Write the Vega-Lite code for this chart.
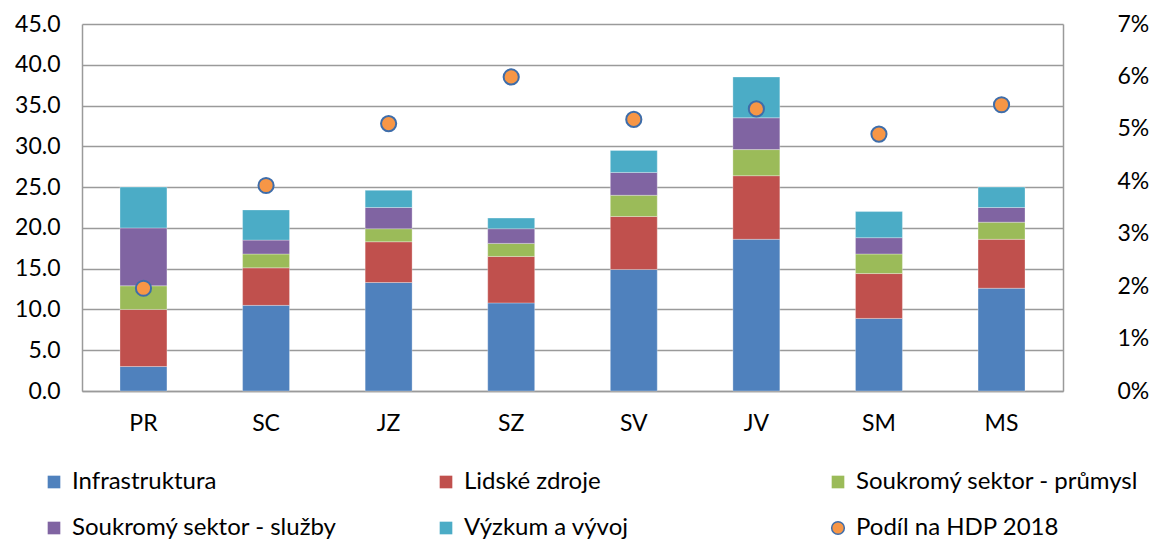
{
  "$schema": "https://vega.github.io/schema/vega-lite/v6.json",
  "width": 981,
  "height": 367,
  "autosize": {"type": "none"},
  "padding": {"left": 82, "top": 24, "right": 91, "bottom": 148},
  "background": "white",
  "datasets": {
    "bars": [
      {"region": "PR", "series": "Infrastruktura", "value": 3.0},
      {"region": "PR", "series": "Lidské zdroje", "value": 7.0},
      {"region": "PR", "series": "Soukromý sektor - průmysl", "value": 2.9},
      {"region": "PR", "series": "Soukromý sektor - služby", "value": 7.1},
      {"region": "PR", "series": "Výzkum a vývoj", "value": 5.0},
      {"region": "SC", "series": "Infrastruktura", "value": 10.5},
      {"region": "SC", "series": "Lidské zdroje", "value": 4.6},
      {"region": "SC", "series": "Soukromý sektor - průmysl", "value": 1.7},
      {"region": "SC", "series": "Soukromý sektor - služby", "value": 1.7},
      {"region": "SC", "series": "Výzkum a vývoj", "value": 3.7},
      {"region": "JZ", "series": "Infrastruktura", "value": 13.3},
      {"region": "JZ", "series": "Lidské zdroje", "value": 5.0},
      {"region": "JZ", "series": "Soukromý sektor - průmysl", "value": 1.6},
      {"region": "JZ", "series": "Soukromý sektor - služby", "value": 2.6},
      {"region": "JZ", "series": "Výzkum a vývoj", "value": 2.1},
      {"region": "SZ", "series": "Infrastruktura", "value": 10.8},
      {"region": "SZ", "series": "Lidské zdroje", "value": 5.7},
      {"region": "SZ", "series": "Soukromý sektor - průmysl", "value": 1.6},
      {"region": "SZ", "series": "Soukromý sektor - služby", "value": 1.8},
      {"region": "SZ", "series": "Výzkum a vývoj", "value": 1.3},
      {"region": "SV", "series": "Infrastruktura", "value": 14.9},
      {"region": "SV", "series": "Lidské zdroje", "value": 6.5},
      {"region": "SV", "series": "Soukromý sektor - průmysl", "value": 2.6},
      {"region": "SV", "series": "Soukromý sektor - služby", "value": 2.8},
      {"region": "SV", "series": "Výzkum a vývoj", "value": 2.7},
      {"region": "JV", "series": "Infrastruktura", "value": 18.6},
      {"region": "JV", "series": "Lidské zdroje", "value": 7.8},
      {"region": "JV", "series": "Soukromý sektor - průmysl", "value": 3.2},
      {"region": "JV", "series": "Soukromý sektor - služby", "value": 3.9},
      {"region": "JV", "series": "Výzkum a vývoj", "value": 5.0},
      {"region": "SM", "series": "Infrastruktura", "value": 8.9},
      {"region": "SM", "series": "Lidské zdroje", "value": 5.5},
      {"region": "SM", "series": "Soukromý sektor - průmysl", "value": 2.4},
      {"region": "SM", "series": "Soukromý sektor - služby", "value": 2.0},
      {"region": "SM", "series": "Výzkum a vývoj", "value": 3.2},
      {"region": "MS", "series": "Infrastruktura", "value": 12.6},
      {"region": "MS", "series": "Lidské zdroje", "value": 6.0},
      {"region": "MS", "series": "Soukromý sektor - průmysl", "value": 2.1},
      {"region": "MS", "series": "Soukromý sektor - služby", "value": 1.8},
      {"region": "MS", "series": "Výzkum a vývoj", "value": 2.5}
    ],
    "dots": [
      {"region": "PR", "series": "Podíl na HDP 2018", "share": 0.0196},
      {"region": "SC", "series": "Podíl na HDP 2018", "share": 0.0392},
      {"region": "JZ", "series": "Podíl na HDP 2018", "share": 0.0510},
      {"region": "SZ", "series": "Podíl na HDP 2018", "share": 0.0599},
      {"region": "SV", "series": "Podíl na HDP 2018", "share": 0.0518},
      {"region": "JV", "series": "Podíl na HDP 2018", "share": 0.0538},
      {"region": "SM", "series": "Podíl na HDP 2018", "share": 0.0490},
      {"region": "MS", "series": "Podíl na HDP 2018", "share": 0.0546}
    ]
  },
  "encoding": {
    "x": {
      "field": "region",
      "type": "nominal",
      "sort": ["PR", "SC", "JZ", "SZ", "SV", "JV", "SM", "MS"],
      "scale": {"paddingInner": 0.617, "paddingOuter": 0.31},
      "axis": {"labelAngle": 0, "labelPadding": 21, "labelFontSize": 23, "labelFont": "Lato", "domain": true}
    }
  },
  "layer": [
    {
      "data": {"name": "bars"},
      "mark": {"type": "bar", "stroke": "#ffffff", "strokeWidth": 0.5, "strokeOpacity": 0.6},
      "encoding": {
        "y": {
          "field": "value",
          "type": "quantitative",
          "stack": "zero",
          "scale": {"domain": [0, 45], "nice": false},
          "axis": {"values": [0, 5, 10, 15, 20, 25, 30, 35, 40, 45], "format": ".1f", "labelPadding": 22, "labelFontSize": 23, "labelFont": "Lato", "grid": true, "domain": true}
        },
        "order": {"field": "series", "sort": "ascending"},
        "color": {
          "field": "series",
          "type": "nominal",
          "scale": {
            "domain": ["Infrastruktura", "Lidské zdroje", "Soukromý sektor - průmysl", "Soukromý sektor - služby", "Výzkum a vývoj", "Podíl na HDP 2018"],
            "range": ["#4F81BD", "#C0504D", "#9BBB59", "#8064A2", "#4BACC6", "#F79646"]
          }
        }
      }
    },
    {
      "data": {"name": "dots"},
      "mark": {"type": "point", "filled": true, "size": 230, "strokeWidth": 2, "opacity": 1},
      "encoding": {
        "y": {
          "field": "share",
          "type": "quantitative",
          "scale": {"domain": [0, 0.07], "nice": false},
          "axis": {"orient": "right", "values": [0, 0.01, 0.02, 0.03, 0.04, 0.05, 0.06, 0.07], "format": ".0%", "labelPadding": 54, "labelFontSize": 23, "labelFont": "Lato", "grid": false, "domain": true}
        },
        "color": {"field": "series", "type": "nominal"},
        "shape": {
          "field": "series",
          "type": "nominal",
          "scale": {
            "domain": ["Infrastruktura", "Lidské zdroje", "Soukromý sektor - průmysl", "Soukromý sektor - služby", "Výzkum a vývoj", "Podíl na HDP 2018"],
            "range": ["square", "square", "square", "square", "square", "circle"]
          }
        },
        "stroke": {
          "field": "series",
          "type": "nominal",
          "scale": {
            "domain": ["Infrastruktura", "Lidské zdroje", "Soukromý sektor - průmysl", "Soukromý sektor - služby", "Výzkum a vývoj", "Podíl na HDP 2018"],
            "range": ["transparent", "transparent", "transparent", "transparent", "transparent", "#3E6DAA"]
          }
        }
      }
    }
  ],
  "resolve": {"scale": {"y": "independent"}, "legend": {"color": "shared"}},
  "config": {
    "view": {"stroke": null},
    "font": "Lato",
    "axis": {"labelFont": "Lato", "labelFontSize": 23, "labelColor": "#000000", "domainColor": "#9a9a9a", "domainWidth": 1.5, "gridColor": "#9a9a9a", "gridWidth": 1.5, "ticks": false, "title": null},
    "legend": {
      "labelFont": "Lato", "labelFontSize": 24, "labelColor": "#000000",
      "title": null,
      "orient": "none",
      "legendX": -40,
      "legendY": 446,
      "direction": "horizontal",
      "columns": 3,
      "gridAlign": "all",
      "columnPadding": 79,
      "rowPadding": 22,
      "symbolSize": 160,
      "labelOffset": 6,
      "labelLimit": 400
    }
  }
}
